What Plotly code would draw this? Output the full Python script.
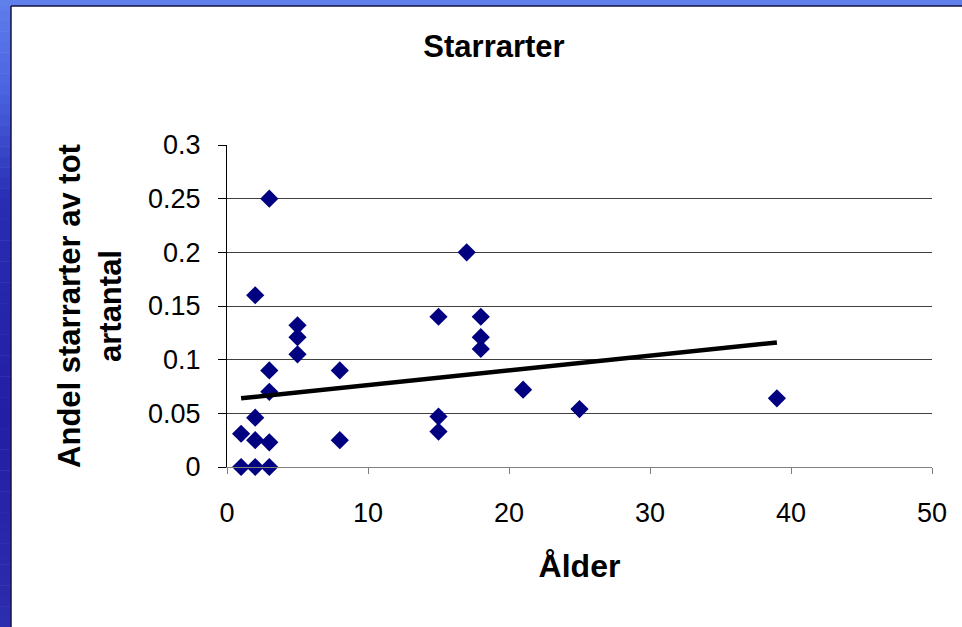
import plotly.graph_objects as go

# Data
alder = [1, 1, 2, 2, 2, 2, 3, 3, 3, 3, 3, 5, 5, 5, 8, 8, 15, 15, 15, 17, 18, 18, 18, 21, 25, 39]
andel = [0, 0.031, 0, 0.025, 0.046, 0.16, 0, 0.023, 0.07, 0.09, 0.25, 0.105, 0.121, 0.132,
         0.025, 0.09, 0.033, 0.047, 0.14, 0.2, 0.11, 0.121, 0.14, 0.072, 0.054, 0.064]
trend_x = [1, 39]
trend_y = [0.064, 0.116]

title_text = "Starrarter"
x_title = "Ålder"
y_title = "Andel starrarter av tot<br>artantal"

W, H = 962, 627
ML, MR, MT, MB = 227, 30, 145, 160
PW = W - ML - MR
PH = H - MT - MB

def px(x):
    return (x - ML) / PW

def py(y):
    return (H - MB - y) / PH

fig = go.Figure()
fig.add_trace(go.Scatter(
    x=alder, y=andel, mode="markers",
    marker=dict(symbol="diamond", size=14, color="#000080", line=dict(width=0)),
    cliponaxis=False, showlegend=False))
fig.add_trace(go.Scatter(
    x=trend_x, y=trend_y, mode="lines",
    line=dict(color="black", width=4.5),
    cliponaxis=False, showlegend=False))

shapes = []
def lerp(c1, c2, t):
    return "#%02x%02x%02x" % tuple(int(round(a + (b - a) * t)) for a, b in zip(c1, c2))

stops = [(0, (95, 125, 235)), (90, (75, 100, 225)), (200, (40, 45, 180)), (420, (35, 30, 165)), (627, (45, 45, 175))]
n = 60
for i in range(n):
    y0 = H * i / n
    y1 = H * (i + 1) / n
    ym = (y0 + y1) / 2
    for j in range(len(stops) - 1):
        if stops[j][0] <= ym <= stops[j + 1][0]:
            t = (ym - stops[j][0]) / (stops[j + 1][0] - stops[j][0])
            col = lerp(stops[j][1], stops[j + 1][1], t)
            break
    shapes.append(dict(type="rect", xref="paper", yref="paper", x0=px(0), x1=px(11),
                       y0=py(y1 + 0.5), y1=py(y0), fillcolor=col, line=dict(width=0), layer="below"))
shapes.append(dict(type="rect", xref="paper", yref="paper", x0=px(0), x1=px(W),
                   y0=py(6), y1=py(0), fillcolor="#5f7fea", line=dict(width=0), layer="below"))
shapes.append(dict(type="line", xref="paper", yref="paper", x0=px(11), x1=px(W),
                   y0=py(6), y1=py(6), line=dict(color="#141440", width=1.5)))
shapes.append(dict(type="line", xref="paper", yref="paper", x0=px(11), x1=px(11),
                   y0=py(6), y1=py(H), line=dict(color="#141440", width=1.5)))

fig.update_layout(
    width=W, height=H,
    margin=dict(l=ML, r=MR, t=MT, b=MB),
    paper_bgcolor="white", plot_bgcolor="white",
    font=dict(family="Liberation Sans, Arial, sans-serif", color="black"),
    title=dict(text="<b>" + title_text + "</b>", x=494 / W, xref="container", xanchor="center",
               y=1 - 46 / H, yref="container", yanchor="middle",
               font=dict(size=31, color="black")),
    shapes=shapes,
    xaxis=dict(range=[0, 50], dtick=10, tick0=0, showgrid=False, zeroline=False,
               showline=True, linecolor="#808080", linewidth=1,
               ticks="outside", ticklen=6, tickcolor="#808080",
               ticklabelstandoff=16,
               tickfont=dict(size=27), title=dict(text="<b>" + x_title + "</b>", font=dict(size=32), standoff=27)),
    yaxis=dict(range=[0, 0.3], dtick=0.05, tick0=0, showgrid=True, gridcolor="#404040", gridwidth=1,
               zeroline=False, showline=True, linecolor="black", linewidth=1,
               ticks="outside", ticklen=8, tickcolor="black",
               ticklabelstandoff=12,
               tickfont=dict(size=27), title=dict(text="<b>" + y_title + "</b>", font=dict(size=31), standoff=17)),
)

fig.write_html("out.html")
